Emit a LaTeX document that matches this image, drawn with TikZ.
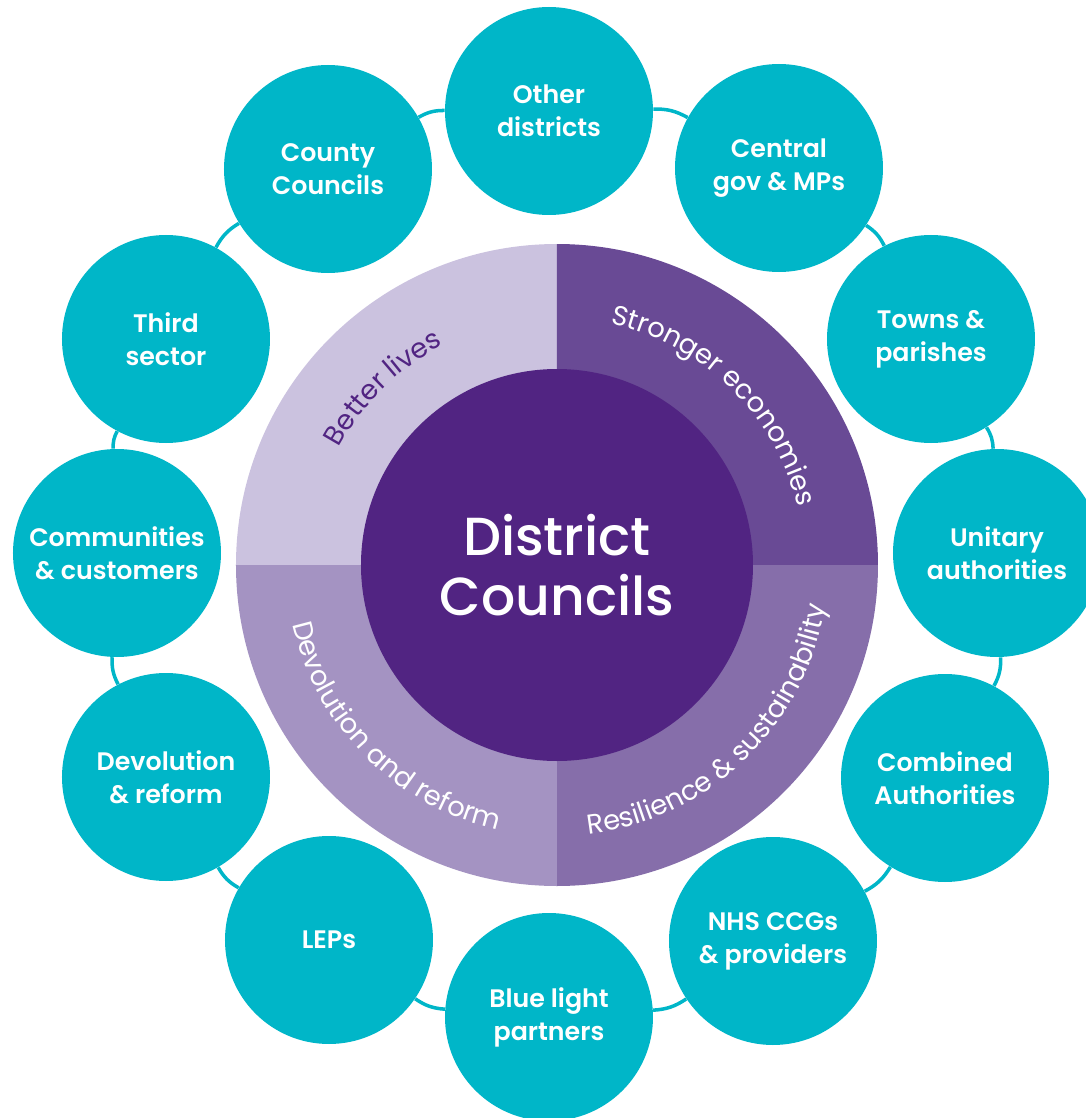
\documentclass[tikz,border=0pt]{standalone}
\usepackage{fontspec}
\setmainfont{Poppins}[BoldFont={Poppins Medium}]
\newfontfamily\partnerfont{Poppins SemiBold}
\usetikzlibrary{decorations.text}

\definecolor{partnerteal}{RGB}{0,182,200}
\definecolor{hubpurple}{RGB}{81,36,130}
\definecolor{betterlives}{RGB}{203,194,223}
\definecolor{strongereco}{RGB}{105,74,149}
\definecolor{resilience}{RGB}{134,110,170}
\definecolor{devolution}{RGB}{164,147,194}

\newcommand{\bandfont}{\fontsize{15.6}{18}\selectfont}

\begin{document}
\begin{tikzpicture}

      \tikzset{partner/.style={circle, fill=partnerteal, minimum size=4.16cm, inner sep=0pt, text=white, align=center, font=\partnerfont\fontsize{14.4}{18.7}\selectfont},
               link/.style={draw=partnerteal, line width=2pt, bend left=15}}
      \useasboundingbox (-11.14,-11.06) rectangle (10.58,11.30);
%% Quadrants
      \fill[betterlives] (0,0) -- (90:6.42) arc (90:180:6.42) -- cycle;
      \fill[strongereco] (0,0) -- (0:6.42) arc (0:90:6.42) -- cycle;
      \fill[resilience] (0,0) -- (-90:6.42) arc (-90:0:6.42) -- cycle;
      \fill[devolution] (0,0) -- (180:6.42) arc (180:270:6.42) -- cycle;
      \node[circle, fill=hubpurple, minimum size=7.84cm, inner sep=0pt, text=white, align=center, font=\bfseries\fontsize{30.5}{34}\selectfont] (hub) at (0,0) {District\\Councils};
%% Quadrant labels
      \path[decorate, decoration={text along path, text align=center, text={|\color{hubpurple}\bandfont|Better lives}}] (170:4.95) arc (170:99:4.95);
      \path[decorate, decoration={text along path, text align=center, text={|\color{white}\bandfont|Stronger economies}}] (90:4.95) arc (90:1:4.95);
      \path[decorate, decoration={text along path, text align=center, text={|\color{white}\bandfont|Resilience {\&} sustainability}}] (-91:5.42) arc (-91:-1:5.42);
      \path[decorate, decoration={text along path, text align=center, text={|\color{white}\bandfont|Devolution and reform}}] (180:5.42) arc (180:270:5.42);
%% Partners
      \node[partner] (p1) at (-0.16,9.08) {Other\\districts};
      \node[partner] (p2) at (4.44,7.94) {Central\\gov {\&} MPs};
      \node[partner] (p3) at (7.48,4.52) {Towns {\&}\\parishes};
      \node[partner] (p4) at (8.80,0.24) {Unitary\\authorities};
      \node[partner] (p5) at (7.76,-4.26) {Combined\\Authorities};
      \node[partner] (p6) at (4.32,-7.52) {NHS CCGs\\{\&} providers};
      \node[partner] (p7) at (-0.16,-9.04) {Blue light\\partners};
      \node[partner] (p8) at (-4.56,-7.50) {LEPs};
      \node[partner] (p9) at (-7.82,-4.24) {Devolution\\{\&} reform};
      \node[partner] (p10) at (-8.80,0.24) {Communities\\{\&} customers};
      \node[partner] (p11) at (-7.82,4.52) {Third\\sector};
      \node[partner] (p12) at (-4.58,7.92) {County\\Councils};
%Ring
      \path (p1) edge[link] (p2);
      \path (p2) edge[link] (p3);
      \path (p3) edge[link] (p4);
      \path (p4) edge[link] (p5);
      \path (p5) edge[link] (p6);
      \path (p6) edge[link] (p7);
      \path (p7) edge[link] (p8);
      \path (p8) edge[link] (p9);
      \path (p9) edge[link] (p10);
      \path (p10) edge[link] (p11);
      \path (p11) edge[link] (p12);
      \path (p12) edge[link] (p1);

\end{tikzpicture}
\end{document}
